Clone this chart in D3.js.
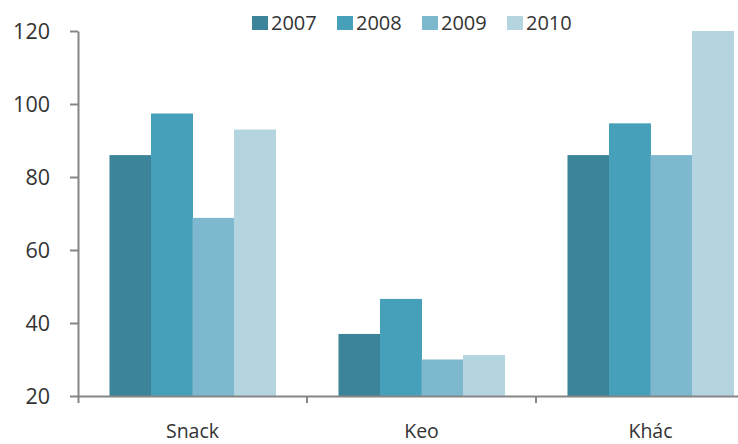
<!DOCTYPE html>
<html><head><meta charset="utf-8">
<script src="https://cdn.jsdelivr.net/npm/d3@7"></script>
<style>
html,body{margin:0;padding:0;background:#fff;overflow:hidden}
svg{display:block}
text{font-family:"Open Sans",sans-serif;fill:#333}
</style></head>
<body>
<svg id="c" width="738" height="444"></svg>
<script>
const categories = ["Snack", "Keo", "Khác"];
const series = ["2007", "2008", "2009", "2010"];
const values2007 = [86, 37, 86];
const values2008 = [97.4, 46.6, 94.7];
const values2009 = [68.8, 30, 86];
const values2010 = [93, 31.2, 120];
const yTicks = [20, 40, 60, 80, 100, 120];
const colors = ["#3b8499", "#47a0b9", "#7db8cf", "#b4d4e0"];

const seriesValues = [values2007, values2008, values2009, values2010];

(function () {
const svg = d3.select("#c");
const mLeft = 78, mRight = 765, mTop = 31, mBottom = 396;

const x = d3.scaleBand().domain(categories).range([mLeft, mRight])
  .paddingInner(0.275).paddingOuter(0.1375);
const xs = d3.scaleBand().domain(series).range([0, x.bandwidth()]);
const y = d3.scaleLinear().domain([20, 120]).range([mBottom, mTop]);
const color = d3.scaleOrdinal().domain(series).range(colors);

// bars
const g = svg.append("g");
categories.forEach((c, ci) => {
  series.forEach((s, si) => {
    const v = seriesValues[si][ci];
    g.append("rect")
      .attr("x", x(c) + xs(s))
      .attr("y", y(v))
      .attr("width", xs.bandwidth() + 0.5)
      .attr("height", y(20) - y(v))
      .attr("fill", color(s));
  });
});

// y axis
const yAxis = svg.append("g").attr("transform", `translate(${mLeft},0)`)
  .call(d3.axisLeft(y).tickValues(yTicks).tickSize(8).tickSizeOuter(0).tickPadding(20));
yAxis.select(".domain").attr("stroke", "#868686").attr("stroke-width", 2);
yAxis.selectAll(".tick line").attr("stroke", "#868686").attr("stroke-width", 2);
yAxis.selectAll(".tick text").attr("font-size", 21.5).attr("font-family", "Open Sans")
  .attr("fill", "#333").attr("dy", "0.36em");

// x axis
const xAxis = svg.append("g").attr("transform", `translate(0,${mBottom})`)
  .call(d3.axisBottom(x).tickSizeInner(0).tickSizeOuter(7).tickPadding(28));
xAxis.select(".domain").attr("stroke", "#868686").attr("stroke-width", 2);
xAxis.selectAll(".tick text").attr("font-size", 19.5).attr("font-family", "Open Sans")
  .attr("fill", "#333");
const boundaries = categories.slice(1).map(c => x(c) - x.step() * x.paddingInner() / 2);
xAxis.selectAll(".bnd").data(boundaries).enter().append("line")
  .attr("x1", d => d).attr("x2", d => d).attr("y1", 0).attr("y2", 7)
  .attr("stroke", "#868686").attr("stroke-width", 2);

// legend
const legendX = [252, 337, 422, 507];
const lg = svg.append("g");
series.forEach((s, i) => {
  lg.append("rect").attr("x", legendX[i]).attr("y", 16).attr("width", 16).attr("height", 14)
    .attr("fill", color(s));
  lg.append("text").attr("x", legendX[i] + 19).attr("y", 30)
    .attr("font-size", 20).text(s);
});
})();
</script>
</body></html>
